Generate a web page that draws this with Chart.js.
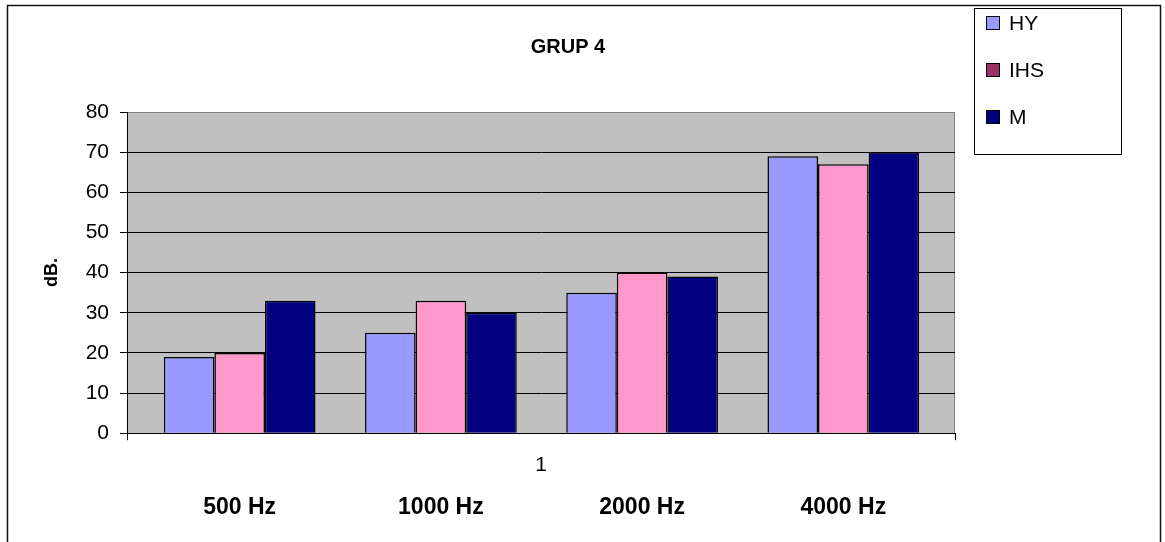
<!DOCTYPE html>
<html>
<head>
<meta charset="utf-8">
<title>GRUP 4</title>
<script src="https://cdn.jsdelivr.net/npm/chart.js@4.4.0/dist/chart.umd.min.js"></script>
<style>
    html, body { margin: 0; padding: 0; background: #ffffff; }
    #wrap { width: 1165px; height: 542px; position: relative; }
</style>
</head>
<body>
<div id="wrap"><canvas id="grupChart"></canvas></div>
<script>
// Hearing thresholds per frequency
const frequencies = ['500 Hz', '1000 Hz', '2000 Hz', '4000 Hz'];
const seriesNames = ['HY', 'IHS', 'M'];
const hyValues = [19, 25, 35, 69];
const ihsValues = [20, 33, 40, 67];
const mValues = [33, 30, 39, 70];
const yTicks = [0, 10, 20, 30, 40, 50, 60, 70, 80];
const groupTicks = [0, 1, 2];

const barColors = ['#9999FF', '#FF99CC', '#000080'];
const legendColors = ['#9999FF', '#993366', '#000080'];
const FONT = "'Liberation Sans', Arial, sans-serif";

// Gray plot background plus the outer chart frame
const plotBackground = {
    id: 'plotBackground',
    beforeDraw(chart) {
        const { ctx, chartArea: a } = chart;
        ctx.save();
        ctx.fillStyle = '#ffffff';
        ctx.fillRect(0, 0, chart.width, chart.height);
        ctx.fillStyle = '#C0C0C0';
        ctx.fillRect(a.left, a.top, a.right - a.left, a.bottom - a.top);
        ctx.strokeStyle = '#808080';
        ctx.lineWidth = 1;
        ctx.beginPath();
        ctx.moveTo(a.left, a.top + 0.5);
        ctx.lineTo(a.right - 0.5, a.top + 0.5);
        ctx.lineTo(a.right - 0.5, a.bottom);
        ctx.stroke();
        ctx.strokeStyle = '#111111';
        ctx.lineWidth = 1.5;
        ctx.strokeRect(7.5, 5.5, 1153, 545);
        ctx.restore();
    }
};

// Boxed legend in the top right corner
const boxedLegend = {
    id: 'boxedLegend',
    afterDraw(chart) {
        const ctx = chart.ctx;
        ctx.save();
        ctx.strokeStyle = '#000000';
        ctx.lineWidth = 1;
        ctx.strokeRect(974.5, 8.5, 147, 146);
        ctx.font = '21px ' + FONT;
        ctx.textBaseline = 'middle';
        chart.data.datasets.forEach((ds, i) => {
            const cy = 23 + i * 47;
            ctx.fillStyle = legendColors[i];
            ctx.fillRect(986.5, cy - 6.5, 13, 13);
            ctx.strokeRect(986.5, cy - 6.5, 13, 13);
            ctx.fillStyle = '#000000';
            ctx.fillText(ds.label, 1009, cy + 1);
        });
        ctx.restore();
    }
};

const datasets = [hyValues, ihsValues, mValues].map((values, i) => ({
    label: seriesNames[i],
    data: values,
    backgroundColor: barColors[i],
    borderColor: '#000000',
    borderWidth: 1.5,
    categoryPercentage: 0.754,
    barPercentage: 1
}));

const ctx = document.getElementById('grupChart').getContext('2d');
new Chart(ctx, {
    type: 'bar',
    data: {
        labels: frequencies.map((f, i) => i),
        datasets: datasets
    },
    options: {
        responsive: true,
        maintainAspectRatio: false,
        animation: false,
        layout: { padding: { left: 0, right: 29, top: 0, bottom: 17 } },
        plugins: {
            legend: { display: false },
            tooltip: { enabled: false },
            title: {
                display: true,
                text: 'GRUP 4',
                color: '#000000',
                font: { family: FONT, size: 20, weight: 'bold' },
                padding: { top: 35, bottom: 53 }
            }
        },
        scales: {
            // frequency names, one under each group of bars
            x: {
                type: 'linear',
                min: -0.56,
                max: 3.555,
                offset: false,
                weight: 1,
                grid: { display: false, drawTicks: false, offset: false },
                border: { display: false },
                ticks: {
                    stepSize: 1,
                    includeBounds: false,
                    autoSkip: false,
                    maxRotation: 0,
                    padding: 4,
                    color: '#000000',
                    font: { family: FONT, size: 23, weight: 'bold' },
                    callback: v => frequencies[v] !== undefined ? frequencies[v] : ''
                }
            },
            // single category axis right under the plot
            x1: {
                type: 'linear',
                position: 'bottom',
                min: 0,
                max: 2,
                weight: 0,
                offset: false,
                afterBuildTicks: axis => { axis.ticks = groupTicks.map(v => ({ value: v })); },
                grid: {
                    offset: false,
                    drawOnChartArea: false,
                    tickLength: 7,
                    color: c => c.tick && c.tick.value === 1 ? 'rgba(0,0,0,0)' : '#000000'
                },
                border: { display: true, color: '#000000', width: 1 },
                ticks: {
                    autoSkip: false,
                    maxRotation: 0,
                    padding: 12,
                    color: '#000000',
                    font: { family: FONT, size: 21 },
                    callback: v => v === 1 ? '1' : ''
                }
            },
            y: {
                min: 0,
                max: 80,
                afterFit: axis => { axis.width = 127; },
                afterBuildTicks: axis => { axis.ticks = yTicks.map(v => ({ value: v })); },
                grid: {
                    color: c => c.tick && c.tick.value === 80 ? '#808080' : '#000000',
                    tickColor: '#000000',
                    tickLength: 7,
                    lineWidth: 1
                },
                border: { display: true, color: '#000000', width: 1 },
                ticks: {
                    padding: 11,
                    color: '#000000',
                    font: { family: FONT, size: 21 }
                },
                title: {
                    display: true,
                    text: 'dB.',
                    color: '#000000',
                    font: { family: FONT, size: 18, weight: 'bold' },
                    padding: { top: 41, bottom: 0 }
                }
            },
            // empty right axis reserving room for the legend box
            yRight: {
                position: 'right',
                display: true,
                afterFit: axis => { axis.width = 181; },
                grid: { display: false, drawTicks: false },
                border: { display: false },
                ticks: { display: false }
            }
        }
    },
    plugins: [plotBackground, boxedLegend]
});
</script>
</body>
</html>
